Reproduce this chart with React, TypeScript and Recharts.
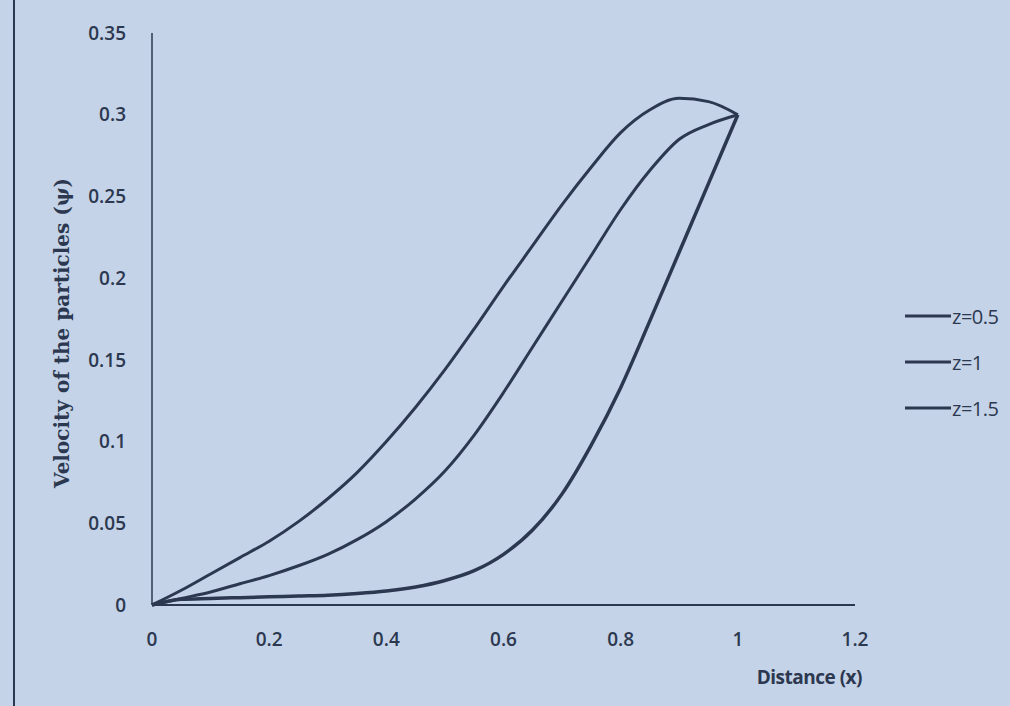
import { CartesianGrid, Legend, Line, LineChart, XAxis, YAxis } from 'recharts';

// distance values along the x axis
const distance = [0, 0.05, 0.1, 0.15, 0.2, 0.25, 0.3, 0.35, 0.4, 0.45, 0.5, 0.55, 0.6, 0.65, 0.7, 0.75, 0.8, 0.85, 0.9, 0.95, 1];

// velocity of the particles for each z
const velZ05 = [0, 0.009, 0.019, 0.029, 0.039, 0.051, 0.065, 0.081, 0.1, 0.121, 0.144, 0.169, 0.195, 0.22, 0.245, 0.268, 0.289, 0.303, 0.31, 0.308, 0.3];
const velZ1 = [0, 0.004, 0.008, 0.013, 0.018, 0.024, 0.031, 0.04, 0.051, 0.065, 0.082, 0.104, 0.13, 0.158, 0.186, 0.214, 0.242, 0.266, 0.285, 0.294, 0.3];
const velZ15 = [0, 0.0035, 0.004, 0.0045, 0.005, 0.0055, 0.006, 0.007, 0.0085, 0.011, 0.015, 0.021, 0.031, 0.046, 0.068, 0.098, 0.133, 0.174, 0.216, 0.258, 0.3];

const seriesNames = ['z=0.5', 'z=1', 'z=1.5'];
const xTicks = [0, 0.2, 0.4, 0.6, 0.8, 1, 1.2];
const yTicks = [0, 0.05, 0.1, 0.15, 0.2, 0.25, 0.3, 0.35];

const data = distance.map((x, i) => ({
  x,
  z05: velZ05[i],
  z1: velZ1[i],
  z15: velZ15[i],
}));

const INK = '#2c3850';
const PAPER = '#c4d3e7';
const SANS = '"Open Sans", sans-serif';

// legend laid out like the printed one: short line then label
const LegendBox = () => (
  <div style={{ paddingLeft: 50 }}>
    {seriesNames.map((name) => (
      <div key={name} style={{ display: 'flex', alignItems: 'center', height: 46 }}>
        <svg width={46} height={6}>
          <line x1={0} y1={3} x2={46} y2={3} stroke={INK} strokeWidth={3} />
        </svg>
        <span style={{ fontFamily: SANS, fontSize: 20, color: INK, marginLeft: 1, letterSpacing: -0.5 }}>{name}</span>
      </div>
    ))}
  </div>
);

const YTitle = ({ viewBox }: any) => {
  const cx = 62;
  const cy = viewBox.y + viewBox.height / 2 + 14;
  return (
    <text
      x={cx}
      y={cy}
      transform={`rotate(-90 ${cx} ${cy})`}
      textAnchor="middle"
      dominantBaseline="central"
      fontFamily='"DejaVu Serif", serif'
      fontWeight="bold"
      fontSize={20}
      fill={INK}
    >
      Velocity of the particles (ψ)
    </text>
  );
};

const XTitle = ({ viewBox }: any) => (
  <text
    x={viewBox.x + viewBox.width + 7}
    y={684}
    textAnchor="end"
    fontFamily={SANS}
    fontWeight={700}
    fontSize={19}
    letterSpacing={-0.5}
    fill={INK}
  >
    Distance (x)
  </text>
);

export default function App() {
  return (
    <div style={{ position: 'fixed', left: 0, top: 0, width: 1010, height: 706, background: PAPER }}>
      <div style={{ position: 'absolute', left: 13, top: 0, width: 2, height: 706, background: INK }} />
      <LineChart
        width={1010}
        height={706}
        data={data}
        margin={{ top: 33, right: 0, left: 0, bottom: 31 }}
      >
        <CartesianGrid stroke="none" />
        <XAxis
          dataKey="x"
          type="number"
          domain={[0, 1.2]}
          ticks={xTicks}
          tickFormatter={(v) => String(v)}
          tickLine={false}
          tickMargin={22}
          height={70}
          axisLine={{ stroke: INK, strokeWidth: 2 }}
          tick={{ fill: INK, fontFamily: SANS, fontSize: 19, fontWeight: 600 }}
          label={{ content: <XTitle /> }}
        />
        <YAxis
          type="number"
          domain={[0, 0.35]}
          ticks={yTicks}
          tickFormatter={(v) => String(v)}
          tickLine={false}
          tickMargin={20}
          width={152}
          axisLine={{ stroke: INK, strokeWidth: 1.5 }}
          tick={{ fill: INK, fontFamily: SANS, fontSize: 19, fontWeight: 600 }}
          label={{ content: <YTitle /> }}
        />
        <Legend
          layout="vertical"
          align="right"
          verticalAlign="middle"
          width={155}
          content={<LegendBox />}
          wrapperStyle={{ top: 293 }}
        />
        <Line type="monotone" dataKey="z05" name={seriesNames[0]} stroke={INK} strokeWidth={3} dot={false} isAnimationActive={false} />
        <Line type="monotone" dataKey="z1" name={seriesNames[1]} stroke={INK} strokeWidth={3} dot={false} isAnimationActive={false} />
        <Line type="monotone" dataKey="z15" name={seriesNames[2]} stroke={INK} strokeWidth={3.5} dot={false} isAnimationActive={false} />
      </LineChart>
    </div>
  );
}
